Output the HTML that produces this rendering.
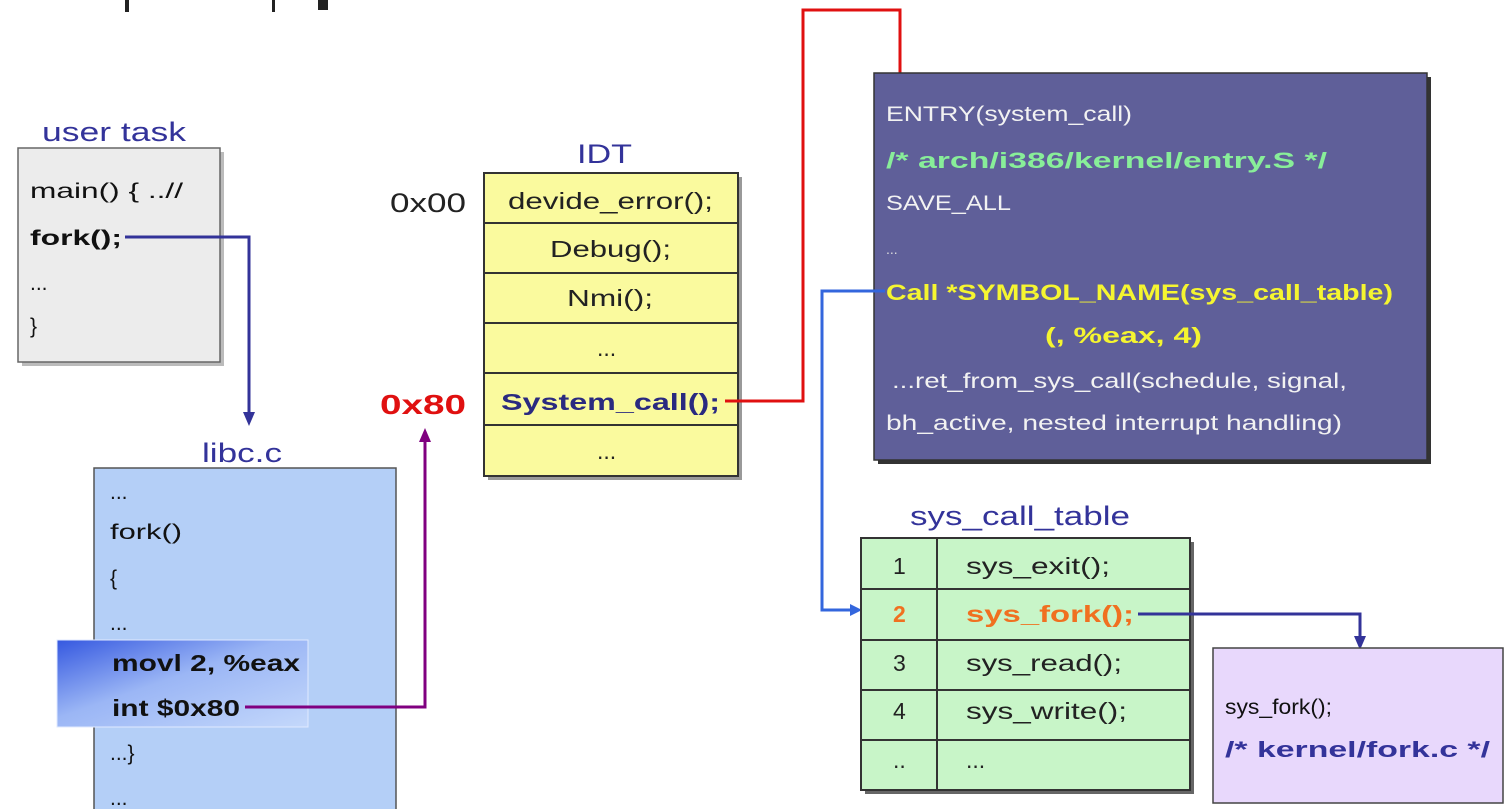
<!DOCTYPE html>
<html><head><meta charset="utf-8"><style>
html,body{margin:0;padding:0;background:#fff;}
svg{display:block;}
text{font-family:"Liberation Sans",sans-serif;}
</style></head><body>
<svg width="1510" height="809" viewBox="0 0 1510 809" xmlns="http://www.w3.org/2000/svg">
<defs>
<linearGradient id="hl" x1="0" y1="0" x2="1" y2="1">
<stop offset="0" stop-color="#3558e0"/><stop offset="0.45" stop-color="#9bb6f5"/><stop offset="1" stop-color="#c4d8fb"/>
</linearGradient>
</defs>
<rect x="318" y="0" width="10" height="10" fill="#222"/>
<rect x="125" y="0" width="4" height="12" fill="#222"/>
<rect x="272" y="0" width="3" height="12" fill="#222"/>

<!-- user task -->
<text x="42" y="141" font-size="27" fill="#33339a" textLength="144" lengthAdjust="spacingAndGlyphs">user task</text>
<rect x="22" y="152" width="202" height="214" fill="#bbb"/>
<rect x="18" y="148" width="202" height="214" fill="#ececec" stroke="#666" stroke-width="1.5"/>
<text x="30" y="198" font-size="21" fill="#111" textLength="153" lengthAdjust="spacingAndGlyphs">main() { ..//</text>
<text x="30" y="245" font-size="21" font-weight="bold" fill="#111" textLength="92" lengthAdjust="spacingAndGlyphs">fork();</text>
<text x="30" y="290" font-size="21" fill="#111">...</text>
<text x="30" y="333" font-size="21" fill="#111">}</text>
<polyline points="125,237 249,237 249,420" fill="none" stroke="#333399" stroke-width="3"/>
<path d="M243,412 L255,412 L249,426 z" fill="#333399"/>

<!-- libc.c -->
<text x="202" y="462" font-size="27" fill="#33339a" textLength="80" lengthAdjust="spacingAndGlyphs">libc.c</text>
<rect x="94" y="468" width="302" height="345" fill="#b4cff7" stroke="#555" stroke-width="1.5"/>
<text x="110" y="499" font-size="21" fill="#111">...</text>
<text x="110" y="539" font-size="21" fill="#111" textLength="72" lengthAdjust="spacingAndGlyphs">fork()</text>
<text x="110" y="585" font-size="21" fill="#111">{</text>
<text x="110" y="630" font-size="21" fill="#111">...</text>
<rect x="57" y="640" width="251" height="87" fill="url(#hl)" stroke="#e0eaff" stroke-width="1"/>
<text x="112" y="671" font-size="23" font-weight="bold" fill="#111" textLength="188" lengthAdjust="spacingAndGlyphs">movl 2, %eax</text>
<text x="112" y="716" font-size="23" font-weight="bold" fill="#111" textLength="128" lengthAdjust="spacingAndGlyphs">int $0x80</text>
<text x="110" y="760" font-size="21" fill="#111">...}</text>
<text x="110" y="805" font-size="21" fill="#111">...</text>
<polyline points="245,707 425,707 425,440" fill="none" stroke="#800080" stroke-width="3"/>
<path d="M419,442 L431,442 L425,428 z" fill="#800080"/>

<!-- IDT -->
<text x="577" y="163" font-size="27" fill="#33339a" textLength="55" lengthAdjust="spacingAndGlyphs">IDT</text>
<rect x="488" y="177" width="254" height="303" fill="#999"/>
<rect x="484" y="173" width="254" height="303" fill="#fafa9e" stroke="#333" stroke-width="2"/>
<g stroke="#333" stroke-width="2">
<line x1="484" y1="223" x2="738" y2="223"/><line x1="484" y1="273" x2="738" y2="273"/>
<line x1="484" y1="323" x2="738" y2="323"/><line x1="484" y1="373" x2="738" y2="373"/>
<line x1="484" y1="425" x2="738" y2="425"/></g>
<g font-size="23" fill="#222">
<text x="508" y="209" textLength="205" lengthAdjust="spacingAndGlyphs">devide_error();</text>
<text x="550" y="257" textLength="121" lengthAdjust="spacingAndGlyphs">Debug();</text>
<text x="567" y="306" textLength="86" lengthAdjust="spacingAndGlyphs">Nmi();</text>
<text x="597" y="356">...</text>
<text x="501" y="410" font-weight="bold" fill="#2a2a80" textLength="219" lengthAdjust="spacingAndGlyphs">System_call();</text>
<text x="597" y="459">...</text>
</g>
<text x="390" y="212" font-size="27" fill="#222" textLength="76" lengthAdjust="spacingAndGlyphs">0x00</text>
<text x="380" y="414" font-size="28" font-weight="bold" fill="#e01010" textLength="86" lengthAdjust="spacingAndGlyphs">0x80</text>
<polyline points="725,401 803,401 803,10 900,10 900,88" fill="none" stroke="#e01010" stroke-width="3"/>
<path d="M894,86 L906,86 L900,100 z" fill="#e01010"/>

<!-- kernel entry box -->
<rect x="878" y="77" width="553" height="387" fill="#333"/>
<rect x="874" y="73" width="553" height="387" fill="#5f5f99" stroke="#333" stroke-width="1.5"/>
<text x="886" y="121" font-size="21" fill="#f2f2f2" textLength="246" lengthAdjust="spacingAndGlyphs">ENTRY(system_call)</text>
<text x="886" y="168" font-size="22" font-weight="bold" fill="#88ee99" textLength="441" lengthAdjust="spacingAndGlyphs">/* arch/i386/kernel/entry.S */</text>
<text x="886" y="210" font-size="21" fill="#f2f2f2" textLength="125" lengthAdjust="spacingAndGlyphs">SAVE_ALL</text>
<text x="886" y="254" font-size="14" fill="#ddd">...</text>
<text x="886" y="300" font-size="22" font-weight="bold" fill="#f5f530" textLength="507" lengthAdjust="spacingAndGlyphs">Call *SYMBOL_NAME(sys_call_table)</text>
<text x="1045" y="343" font-size="22" font-weight="bold" fill="#f5f530" textLength="157" lengthAdjust="spacingAndGlyphs">(, %eax, 4)</text>
<text x="892" y="388" font-size="21" fill="#f2f2f2" textLength="455" lengthAdjust="spacingAndGlyphs">...ret_from_sys_call(schedule, signal,</text>
<text x="886" y="430" font-size="21" fill="#f2f2f2" textLength="456" lengthAdjust="spacingAndGlyphs">bh_active, nested interrupt handling)</text>
<polyline points="885,291 822,291 822,610 852,610" fill="none" stroke="#3366dd" stroke-width="3"/>
<path d="M850,604 L850,616 L862,610 z" fill="#3366dd"/>

<!-- sys_call_table -->
<text x="910" y="525" font-size="27" fill="#33339a" textLength="220" lengthAdjust="spacingAndGlyphs">sys_call_table</text>
<rect x="865" y="542" width="329" height="252" fill="#666"/>
<rect x="861" y="538" width="329" height="252" fill="#c8f5c8" stroke="#333" stroke-width="2"/>
<g stroke="#333" stroke-width="2">
<line x1="937" y1="538" x2="937" y2="790"/>
<line x1="861" y1="589" x2="1190" y2="589"/><line x1="861" y1="640" x2="1190" y2="640"/>
<line x1="861" y1="690" x2="1190" y2="690"/><line x1="861" y1="740" x2="1190" y2="740"/></g>
<g font-size="23" fill="#222">
<text x="893" y="574">1</text><text x="966" y="574" textLength="144" lengthAdjust="spacingAndGlyphs">sys_exit();</text>
<text x="893" y="622" font-weight="bold" fill="#f07020">2</text><text x="966" y="622" font-weight="bold" fill="#f07020" textLength="168" lengthAdjust="spacingAndGlyphs">sys_fork();</text>
<text x="893" y="671">3</text><text x="966" y="671" textLength="156" lengthAdjust="spacingAndGlyphs">sys_read();</text>
<text x="893" y="719">4</text><text x="966" y="719" textLength="161" lengthAdjust="spacingAndGlyphs">sys_write();</text>
<text x="893" y="768">..</text><text x="966" y="768">...</text>
</g>
<polyline points="1138,614 1360,614 1360,640" fill="none" stroke="#333399" stroke-width="3"/>
<path d="M1354,636 L1366,636 L1360,650 z" fill="#333399"/>

<!-- fork.c box -->
<rect x="1213" y="648" width="290" height="155" fill="#e8d8fc" stroke="#444" stroke-width="1.5"/>
<text x="1225" y="714" font-size="21" fill="#111" textLength="107" lengthAdjust="spacingAndGlyphs">sys_fork();</text>
<text x="1225" y="757" font-size="22" font-weight="bold" fill="#33339a" textLength="265" lengthAdjust="spacingAndGlyphs">/* kernel/fork.c */</text>
</svg>
</body></html>
